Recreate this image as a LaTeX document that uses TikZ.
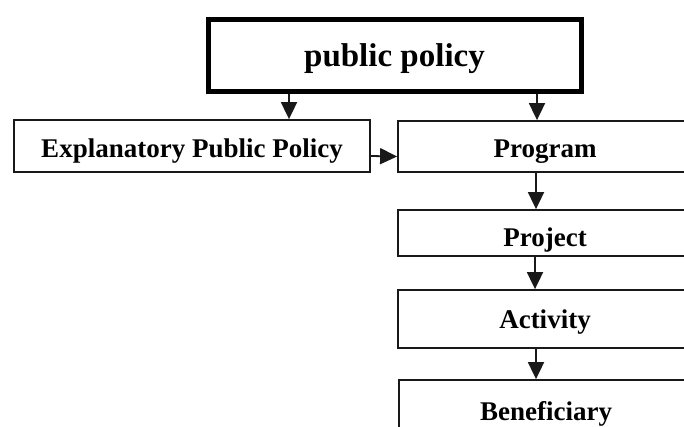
\documentclass[tikz,border=0pt]{standalone}
\usepackage{fontspec}
\setmainfont{Liberation Serif}
\usetikzlibrary{arrows.meta,positioning}

\begin{document}
\begin{tikzpicture}[
    x = 1pt,
    y = -1pt,
    > = {Triangle[length=17pt,width=16pt]},
    font = \fontsize{27}{31}\selectfont\bfseries,
    box/.style={rectangle, draw=black!90, line width=1.8pt, inner sep=0pt, minimum width=294pt,
        text height=24pt, text depth=2pt},
    topbox/.style={rectangle, draw=black, line width=5pt, inner sep=0pt,
        font=\fontsize{33}{38}\selectfont\bfseries, text height=24pt, text depth=2pt},
    arr/.style={->, line width=1.8pt, draw=black!90}
]
    \useasboundingbox (0,0) rectangle (684,426);
    \clip (0,0) rectangle (684,426);

    \node[topbox, minimum width=373pt, minimum height=72pt] (pub) at (394.5,55) {public policy};
    \node[box, minimum width=356pt, minimum height=52pt] (expl) at (192,146) {Explanatory Public Policy};
    \node[box, minimum height=51pt] (prog) at (545,146.5) {Program};
    \node[box, minimum height=46pt, text height=28pt] (proj) at (545,233) {Project};
    \node[box, minimum height=58pt, text height=20pt] (act) at (545,319) {Activity};
    \node[box, minimum height=60pt, text height=22pt] (ben) at (546,410) {Beneficiary};

    % connectors
    \draw[arr] (pub.south -| 289,0) -- (expl.north -| 289,0);
    \draw[arr] (pub.south -| 537,0) -- (prog.north -| 537,0);
    \draw[arr] ([yshift=-10pt]expl.east) -- ([yshift=-10pt]prog.west);
    \draw[arr] (prog.south -| 536,0) -- (proj.north -| 536,0);
    \draw[arr] (proj.south -| 535,0) -- (act.north -| 535,0);
    \draw[arr] (act.south -| 536,0) -- (ben.north -| 536,0);
\end{tikzpicture}
\end{document}
